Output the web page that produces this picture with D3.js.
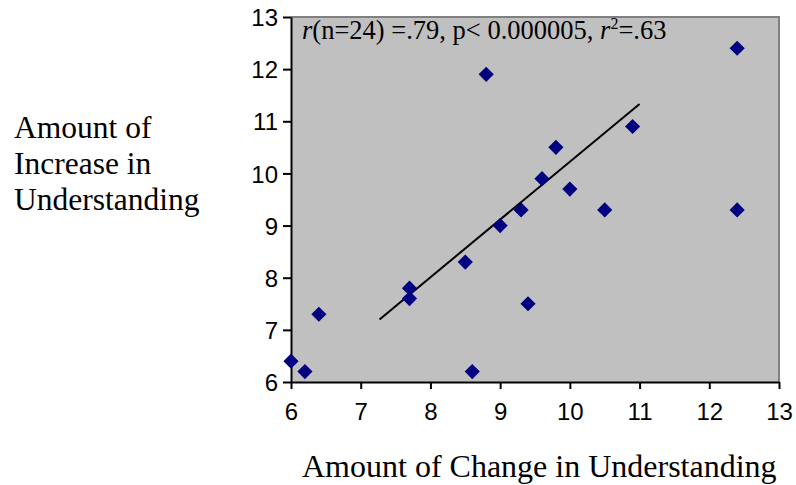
<!DOCTYPE html>
<html>
<head>
<meta charset="utf-8">
<script src="https://cdn.jsdelivr.net/npm/d3@7"></script>
<style>
  html, body { margin: 0; padding: 0; background: #fff; }
  svg { display: block; }
</style>
</head>
<body>
<svg id="chart" width="796" height="485"></svg>
<script>
// Change vs. increase in understanding, one entry per participant shown
const changeValues   = [6.0, 6.2, 6.4, 7.7, 7.7, 8.5, 8.6, 8.8, 9.0, 9.3, 9.4, 9.6, 9.8, 10.0, 10.5, 10.9, 12.4, 12.4];
const increaseValues = [6.4, 6.2, 7.3, 7.8, 7.6, 8.3, 6.2, 11.9, 9.0, 9.3, 7.5, 9.9, 10.5, 9.7, 9.3, 10.9, 12.4, 9.3];

// Linear trend line endpoints (x, y)
const trendX = [7.27, 11.0];
const trendY = [7.2, 11.33];

const xTicks = [6, 7, 8, 9, 10, 11, 12, 13];
const yTicks = [6, 7, 8, 9, 10, 11, 12, 13];

const xTitle = "Amount of Change in Understanding";
const yTitleLines = ["Amount of", "Increase in", "Understanding"];

const svg = d3.select("#chart");
const plot = { left: 291, right: 779, top: 17, bottom: 382 };
const serif = "'Liberation Serif', 'Times New Roman', serif";
const sans = "'Liberation Sans', Arial, sans-serif";

const x = d3.scaleLinear().domain([6, 13]).range([plot.left, plot.right]);
const y = d3.scaleLinear().domain([6, 13]).range([plot.bottom, plot.top]);

// plot area background
svg.append("rect")
  .attr("x", plot.left).attr("y", plot.top)
  .attr("width", plot.right - plot.left).attr("height", plot.bottom - plot.top)
  .attr("fill", "#c0c0c0");

// gray frame on top and right
svg.append("path")
  .attr("d", `M${plot.left},${plot.top}H${plot.right}V${plot.bottom}`)
  .attr("fill", "none").attr("stroke", "#808080").attr("stroke-width", 2);

// axes
const xAxis = d3.axisBottom(x).tickValues(xTicks).tickFormat(d3.format("d")).tickSize(7).tickSizeOuter(0).tickPadding(5);
const yAxis = d3.axisLeft(y).tickValues(yTicks).tickFormat(d3.format("d")).tickSize(8).tickSizeOuter(0).tickPadding(5);

const gx = svg.append("g").attr("transform", `translate(0,${plot.bottom})`).call(xAxis);
const gy = svg.append("g").attr("transform", `translate(${plot.left},0)`).call(yAxis);

[gx, gy].forEach(g => {
  g.select(".domain").attr("stroke", "#000").attr("stroke-width", 2);
  g.selectAll(".tick line").attr("stroke", "#000").attr("stroke-width", 2);
  g.selectAll(".tick text")
    .attr("fill", "#000")
    .style("font-family", sans)
    .style("font-size", "24px");
});
gx.selectAll(".tick text").attr("dy", "1.1em");
gy.selectAll(".tick text").attr("dy", "0.36em");

// trend line
svg.append("line")
  .attr("x1", x(trendX[0])).attr("y1", y(trendY[0]))
  .attr("x2", x(trendX[1])).attr("y2", y(trendY[1]))
  .attr("stroke", "#000").attr("stroke-width", 2);

// diamond markers
const diamond = d3.symbol().type(d3.symbolSquare).size(115);
svg.append("g").selectAll("path")
  .data(changeValues.map((v, i) => [v, increaseValues[i]]))
  .join("path")
  .attr("d", diamond)
  .attr("transform", d => `translate(${x(d[0])},${y(d[1])}) rotate(45)`)
  .attr("fill", "#000080");

// statistics annotation
const note = svg.append("text")
  .attr("x", 302).attr("y", 39)
  .style("font-family", serif)
  .style("font-size", "26.5px")
  .attr("fill", "#000");
note.append("tspan").style("font-style", "italic").text("r");
note.append("tspan").text("(n=24) =.79, p< 0.000005, ");
note.append("tspan").style("font-style", "italic").text("r");
note.append("tspan").attr("dy", -10).style("font-size", "16px").text("2");
note.append("tspan").attr("dy", 10).text("=.63");

// axis titles
svg.append("text")
  .attr("x", 302).attr("y", 477)
  .style("font-family", serif)
  .style("font-size", "32px")
  .attr("fill", "#000")
  .text(xTitle);

svg.append("g").selectAll("text")
  .data(yTitleLines)
  .join("text")
  .attr("x", 14)
  .attr("y", (d, i) => 138 + i * 36)
  .style("font-family", serif)
  .style("font-size", "31.5px")
  .attr("fill", "#000")
  .text(d => d);
</script>
</body>
</html>
